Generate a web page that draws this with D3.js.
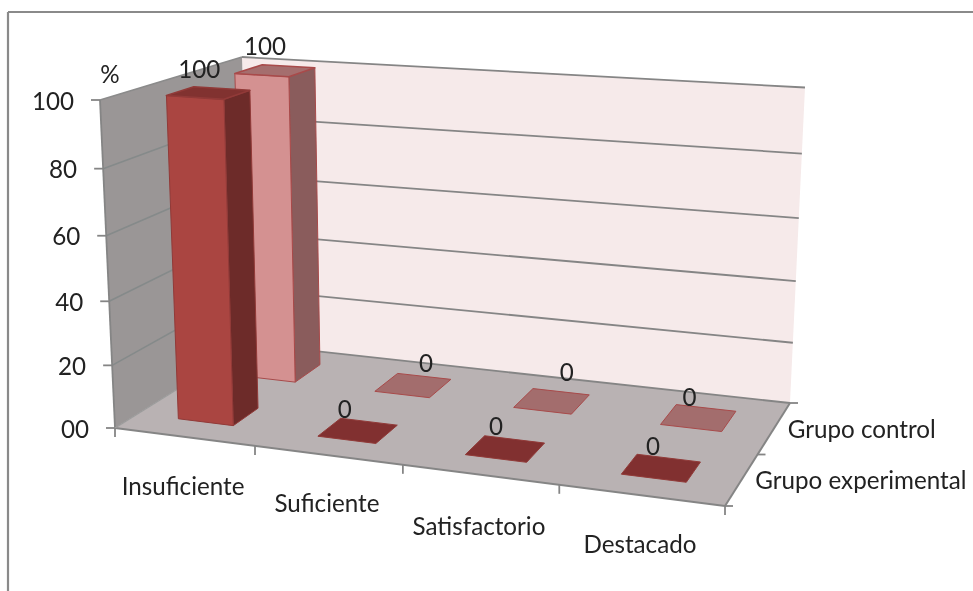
<!DOCTYPE html>
<html><head><meta charset="utf-8">
<script src="https://cdn.jsdelivr.net/npm/d3@7/dist/d3.min.js"></script>
<style>html,body{margin:0;padding:0;background:#fff}svg{display:block;filter:blur(0.4px)}text{font-family:Lato,"Open Sans",sans-serif;fill:#222}</style>
</head><body><div id="c"></div>
<script>
const categories = ["Insuficiente","Suficiente","Satisfactorio","Destacado"];
const series = ["Grupo experimental","Grupo control"];
const grupoExperimental = [100,0,0,0];
const grupoControl = [100,0,0,0];
const yTicks = [0,20,40,60,80,100];
const yLabels = ["00","20","40","60","80","100"];
const yUnit = "%";

const W=973,H=591,FS=24.2;
const svg=d3.select("#c").append("svg").attr("width",W).attr("height",H);

// Box corners of the 3D plot on the page: [front/back][left/right][floor/top]
const box={fl0:[115,428],fr0:[725,506],bl0:[250,344],br0:[790,403],
           fl1:[100,100],fr1:[739,144],bl1:[242,57],br1:[805,87.5]};
const lerp=(a,b,t)=>[a[0]+(b[0]-a[0])*t,a[1]+(b[1]-a[1])*t];
const warp=(u,k)=>u/(u+k*(1-u));
function project(u,v,h){
  const t=warp(u,1.119), s=warp(h,1.059);
  const f0=lerp(box.fl0,box.fr0,t),b0=lerp(box.bl0,box.br0,t),
        f1=lerp(box.fl1,box.fr1,t),b1=lerp(box.bl1,box.br1,t);
  return lerp(lerp(f0,b0,v),lerp(f1,b1,v),s);
}
const xScale=d3.scaleBand().domain(categories).range([0,1]);
const zScale=d3.scaleBand().domain(series).range([0,1]);
const yScale=d3.scaleLinear().domain([0,100]).range([0,1]);
const barHalfU=0.05, barHalfV=0.1, vNudge=0.02;
const line=d3.line();
const poly=(pts,fill,stroke,sw)=>svg.append("path").attr("d",line(pts)+"Z").attr("fill",fill)
  .attr("stroke",stroke||"none").attr("stroke-width",sw||0).attr("stroke-linejoin","round");
const seg=(a,b,w,c)=>svg.append("line").attr("x1",a[0]).attr("y1",a[1]).attr("x2",b[0]).attr("y2",b[1])
  .attr("stroke",c||"#858585").attr("stroke-width",w||1.8);

// chart frame
seg([8,12],[973,12],2.2,"#8a8a8a");
seg([8,12],[8,591],2.2,"#8a8a8a");

// walls
poly([project(0,1,0),project(1,1,0),project(1,1,1),project(0,1,1)],"#f6eaea");
poly([project(0,0,0),project(0,1,0),project(0,1,1),project(0,0,1)],"#9a9696");
poly([project(0,0,0),project(1,0,0),project(1,1,0),project(0,1,0)],"#b9b2b3");

// gridlines
yTicks.forEach(d=>{
  const h=yScale(d);
  if(d>0) seg(project(0,1,h),project(1,1,h),1.8);
  if(d>0) seg(project(0,0,h),project(0,1,h),1.6,d===100?"#8b8b8b":"#858a8a");
  const p=project(0,0,h);
  seg([p[0]-9,p[1]],p,1.8);
});
// axis edges
seg(project(0,0,0),project(0,0,1),1.8);
seg(project(0,0,0),project(1,0,0),2);
seg(project(1,0,0),project(1,1,0),2);
seg(project(0,1,0),project(1,1,0),1.8);
seg(project(0,0,0),project(0,1,0),1.4,"#9c9c9c");
// category ticks
d3.range(categories.length+1).forEach(i=>{
  const p=project(i/categories.length,0,0);
  seg(p,[p[0],p[1]+9],1.8);
});
// series ticks
d3.range(series.length+1).forEach(i=>{
  const p=project(1,i/series.length,0);
  seg(p,[p[0]+8,p[1]],1.8);
});

// y labels
yTicks.forEach((d,i)=>{
  const p=project(0,0,yScale(d));
  svg.append("text").attr("x",p[0]-26).attr("y",p[1]+9.5).attr("text-anchor","end")
    .attr("font-size",FS).text(yLabels[i]);
});
svg.append("text").attr("x",110).attr("y",83).attr("text-anchor","middle").attr("font-size",FS).text(yUnit);

// category labels
const catDy=[50,49,52,50];
categories.forEach((c,i)=>{
  const p=project(xScale(c)+xScale.bandwidth()/2,0,0);
  svg.append("text").attr("x",p[0]-1).attr("y",p[1]+catDy[i]+8).attr("text-anchor","middle").attr("font-size",FS).text(c);
});
// series labels
const serCenter=s=>zScale(s)+zScale.bandwidth()/2;
series.forEach(s=>{
  const p=project(1,serCenter(s),0);
  svg.append("text").attr("x",p[0]+14).attr("y",p[1]+9).attr("font-size",FS).text(s);
});

// bars, back series first
const styles={
  "Grupo control":{front:"#d49191",side:"#8a5c5c",top:"#a56e6e",stroke:"#a84a4a",plate:"#a36d6d"},
  "Grupo experimental":{front:"#aa4541",side:"#6d2b29",top:"#813230",stroke:"#913a38",plate:"#813030"}
};
const seriesValues={"Grupo experimental":grupoExperimental,"Grupo control":grupoControl};
const labelOffset={ // data-label nudges from the default spot above each bar
  "Grupo experimental":[[-9,-23],[-13,-21],[-9,-22],[-8,-21]],
  "Grupo control":[[-10,-24],[13,-21],[15,-28],[-9,-20]]
};
[...series].reverse().forEach(s=>{
  const st=styles[s];
  categories.forEach((c,i)=>{
    const val=seriesValues[s][i];
    const u=xScale(c)+xScale.bandwidth()/2, v=serCenter(s)+vNudge;
    const u0=u-barHalfU,u1=u+barHalfU,v0=v-barHalfV,v1=v+barHalfV,h=yScale(val);
    const P=(a,b,hh)=>project(a,b,hh);
    if(val>0){
      poly([P(u1,v0,0),P(u1,v1,0),P(u1,v1,h),P(u1,v0,h)],st.side,st.stroke,1);
      poly([P(u0,v0,0),P(u1,v0,0),P(u1,v0,h),P(u0,v0,h)],st.front,st.stroke,1);
      poly([P(u0,v0,h),P(u1,v0,h),P(u1,v1,h),P(u0,v1,h)],st.top,st.stroke,1.6);
    } else {
      poly([P(u0,v0,0),P(u1,v0,0),P(u1,v1,0),P(u0,v1,0)],st.plate,st.stroke,1);
    }
    const cp=P(u,(v0+v1)/2,h), off=labelOffset[s][i];
    svg.append("text").attr("x",cp[0]+off[0]).attr("y",cp[1]+off[1]+8).attr("text-anchor","middle")
      .attr("font-size",FS).text(val);
  });
});
</script></body></html>
